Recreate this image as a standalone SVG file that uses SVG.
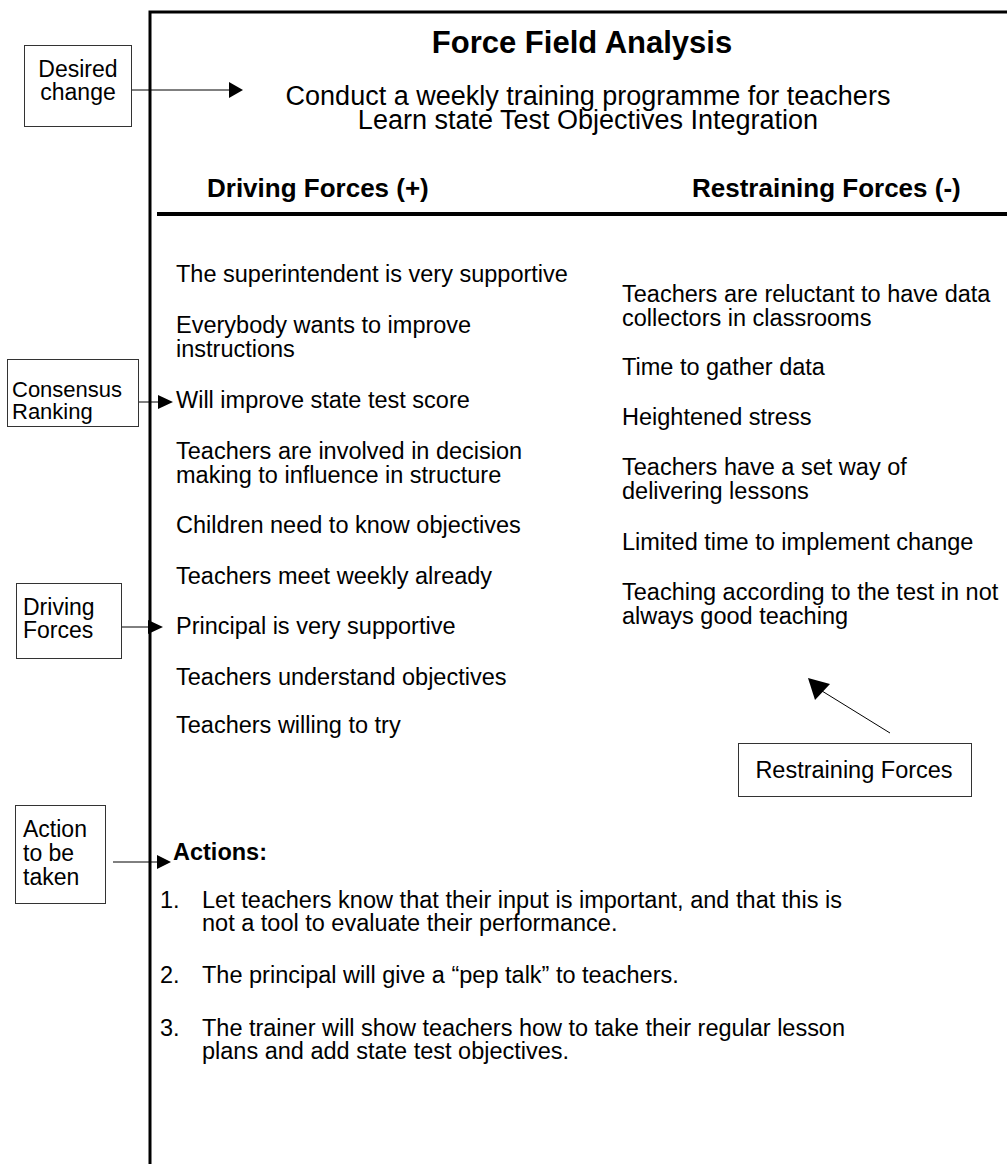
<svg xmlns="http://www.w3.org/2000/svg" width="1007" height="1164" viewBox="0 0 1007 1164">
<style>
text{font-family:"Liberation Sans",Arial,Helvetica,sans-serif;fill:#000}
.b{font-size:23.5px}
.s{font-size:27px}
.h{font-size:26px;font-weight:bold}
.t{font-size:31px;font-weight:bold}
.c{font-size:23px}
.box{fill:#fff;stroke:#333;stroke-width:1}
.frame{stroke:#000;stroke-width:3;fill:none}
.ln{stroke:#000;stroke-width:1;fill:none}
.ah{fill:#000;stroke:none}
</style>
<rect width="1007" height="1164" fill="#fff"/>
<g id="frame">
<path class="frame" d="M150,1164 V12 H1007"/>
<path d="M157,214 H1007" stroke="#000" stroke-width="4"/>
</g>
<g id="header">
<text class="t" x="582" y="53" text-anchor="middle">Force Field Analysis</text>
<text class="s" x="588" y="105" text-anchor="middle">Conduct a weekly training programme for teachers</text>
<text class="s" x="588" y="129" text-anchor="middle">Learn state Test Objectives Integration</text>
<text class="h" x="207" y="197">Driving Forces (+)</text>
<text class="h" x="692" y="197">Restraining Forces (-)</text>
</g>
<g id="driving-forces">
<text class="b" x="176" y="282">The superintendent is very supportive</text>
<text class="b" x="176" y="333">Everybody wants to improve</text>
<text class="b" x="176" y="357">instructions</text>
<text class="b" x="176" y="408">Will improve state test score</text>
<text class="b" x="176" y="459">Teachers are involved in decision</text>
<text class="b" x="176" y="483">making to influence in structure</text>
<text class="b" x="176" y="533">Children need to know objectives</text>
<text class="b" x="176" y="584">Teachers meet weekly already</text>
<text class="b" x="176" y="634">Principal is very supportive</text>
<text class="b" x="176" y="685">Teachers understand objectives</text>
<text class="b" x="176" y="733">Teachers willing to try</text>
</g>
<g id="restraining-forces">
<text class="b" x="622" y="302">Teachers are reluctant to have data</text>
<text class="b" x="622" y="326">collectors in classrooms</text>
<text class="b" x="622" y="375">Time to gather data</text>
<text class="b" x="622" y="425">Heightened stress</text>
<text class="b" x="622" y="475">Teachers have a set way of</text>
<text class="b" x="622" y="499">delivering lessons</text>
<text class="b" x="622" y="550">Limited time to implement change</text>
<text class="b" x="622" y="600">Teaching according to the test in not</text>
<text class="b" x="622" y="624">always good teaching</text>
</g>
<g id="actions">
<text class="b" x="173" y="860" font-weight="bold">Actions:</text>
<text class="b" x="160" y="908">1.</text>
<text class="b" x="202" y="908" textLength="640" lengthAdjust="spacing">Let teachers know that their input is important, and that this is</text>
<text class="b" x="202" y="931">not a tool to evaluate their performance.</text>
<text class="b" x="160" y="983">2.</text>
<text class="b" x="202" y="983">The principal will give a “pep talk” to teachers.</text>
<text class="b" x="160" y="1036">3.</text>
<text class="b" x="202" y="1036" textLength="643" lengthAdjust="spacing">The trainer will show teachers how to take their regular lesson</text>
<text class="b" x="202" y="1059">plans and add state test objectives.</text>
</g>
<g id="callout-desired-change">
<rect class="box" x="24.5" y="45.5" width="107" height="81"/>
<text class="c" x="78" y="77" text-anchor="middle">Desired</text>
<text class="c" x="78" y="100" text-anchor="middle">change</text>
</g>
<g id="callout-consensus-ranking">
<rect class="box" x="7.5" y="359.5" width="131" height="67"/>
<text class="c" x="12" y="397" style="font-size:22px">Consensus</text>
<text class="c" x="12" y="419" style="font-size:22px">Ranking</text>
</g>
<g id="callout-driving-forces">
<rect class="box" x="16.5" y="583.5" width="105" height="75"/>
<text class="c" x="23" y="615">Driving</text>
<text class="c" x="23" y="638">Forces</text>
</g>
<g id="callout-action">
<rect class="box" x="15.5" y="805.5" width="90" height="98"/>
<text class="c" x="23" y="837">Action</text>
<text class="c" x="23" y="861">to be</text>
<text class="c" x="23" y="885">taken</text>
</g>
<g id="callout-restraining-forces">
<rect class="box" x="738.5" y="743.5" width="233" height="53"/>
<text class="b" x="854" y="778" text-anchor="middle">Restraining Forces</text>
</g>
<g id="connectors">
<path class="ln" d="M132,90 H230"/>
<polygon class="ah" points="229,82 243,90 229,98"/>
<path class="ln" d="M139,402 H159"/>
<polygon class="ah" points="158,395 173,402 158,409"/>
<path class="ln" d="M122,627 H149"/>
<polygon class="ah" points="148,620 163,627 148,634"/>
<path class="ln" d="M113,862 H158"/>
<polygon class="ah" points="157,855 171,862 157,869"/>
<path class="ln" d="M890,733 L822,691"/>
<polygon class="ah" points="808,678 815,700 830,684"/>
</g>
</svg>
